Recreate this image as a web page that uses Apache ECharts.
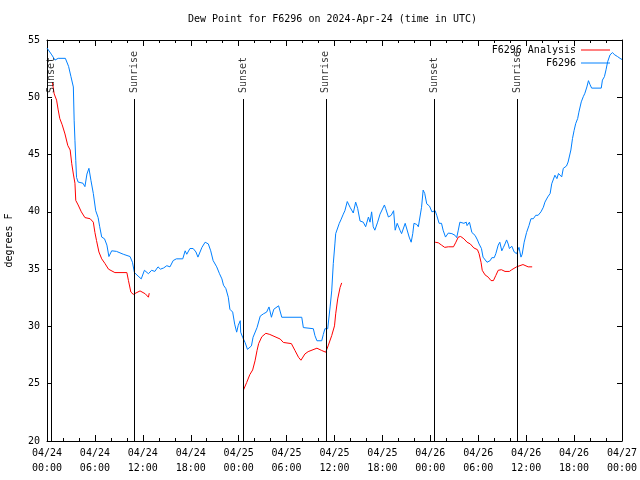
<!DOCTYPE html>
<html><head><meta charset="utf-8">
<script src="https://cdn.jsdelivr.net/npm/echarts@6/dist/echarts.min.js"></script>
<style>html,body{margin:0;padding:0;background:#fff}#c{width:640px;height:480px}</style>
</head><body><div id="c"></div>
<script>
// Hours since 2024-04-24 00:00 UTC
var xTickLabels = ["04/24\n00:00","04/24\n06:00","04/24\n12:00","04/24\n18:00","04/25\n00:00","04/25\n06:00","04/25\n12:00","04/25\n18:00","04/26\n00:00","04/26\n06:00","04/26\n12:00","04/26\n18:00","04/27\n00:00"];
var yTicks = [20,25,30,35,40,45,50,55];

var sunHours  = [0.5, 10.93, 24.55, 34.92, 48.52, 58.9];
var sunLabels = ["Sunset","Sunrise","Sunset","Sunrise","Sunset","Sunrise"];

var obsHours = [0,0.16,0.6,1.0,1.4,2.3,2.7,3.0,3.3,3.4,3.5,3.6,3.7,3.9,4.5,4.75,5.0,5.25,5.5,5.8,6.1,6.4,6.6,6.85,7.2,7.5,7.75,8.1,8.7,9.55,10.4,10.7,10.95,11.4,11.8,12.2,12.7,13.1,13.5,13.9,14.2,14.6,15.0,15.4,15.8,16.2,17.0,17.3,17.5,17.9,18.3,18.65,18.9,19.15,19.4,19.8,20.2,20.5,20.8,21.25,21.6,21.9,22.1,22.4,22.7,22.9,23.25,23.5,23.75,23.95,24.2,24.25,24.5,24.8,25.1,25.3,25.6,25.8,26.3,26.7,27.1,27.5,27.8,28.1,28.4,28.55,29.0,29.2,29.4,31.9,32.1,32.3,33.35,33.55,33.8,34.4,34.6,34.8,35.15,35.45,35.65,35.85,36.05,36.15,36.4,36.6,36.8,37.1,37.3,37.6,37.95,38.35,38.65,38.9,39.2,39.6,39.9,40.25,40.45,40.65,40.85,41.05,41.4,41.7,41.9,42.25,42.4,42.75,43.1,43.4,43.6,43.85,44.2,44.4,44.85,45.1,45.35,45.6,45.8,45.95,46.3,46.5,46.7,46.9,47.1,47.3,47.55,47.9,48.2,48.4,48.6,48.8,49.1,49.4,49.6,49.9,50.25,50.7,51.1,51.3,51.5,51.7,51.9,52.2,52.5,52.6,52.9,53.2,53.6,53.9,54.1,54.4,54.6,54.85,55.1,55.5,55.7,56.0,56.2,56.5,56.7,56.95,57.15,57.35,57.55,57.75,57.9,58.2,58.5,58.8,59.1,59.35,59.5,59.75,60.05,60.35,60.6,60.9,61.2,61.5,61.85,62.15,62.35,62.7,63.0,63.2,63.4,63.6,63.85,64.05,64.25,64.45,64.65,64.85,65.05,65.25,65.6,65.8,66.0,66.2,66.45,66.6,66.9,67.15,67.35,67.6,67.8,68.0,68.2,69.4,69.55,69.8,70.0,70.2,70.5,70.8,71.1,71.45,71.75,72.0];
var obsValues = [54.3,54.2,53.7,53.25,53.4,53.4,52.7,51.8,50.9,48.0,46.25,44.5,43.0,42.6,42.5,42.2,43.3,43.8,42.75,41.6,40.1,39.5,38.7,37.8,37.65,37.1,36.1,36.6,36.55,36.3,36.1,35.6,34.7,34.4,34.15,34.9,34.6,34.9,34.8,35.2,35.0,35.1,35.3,35.2,35.75,35.9,35.9,36.6,36.3,36.8,36.8,36.5,36.05,36.05,36.9,37.35,37.2,36.6,35.75,35.2,34.6,34.15,33.6,33.3,32.55,31.5,31.25,30.2,29.5,30.1,30.5,29.5,29.05,28.6,28.0,27.9,28.3,29.05,29.9,30.9,31.1,31.25,31.7,30.8,31.5,31.5,31.8,31.8,30.8,30.8,29.9,29.8,29.8,29.2,28.75,28.75,29.3,29.8,29.8,31.7,33.1,35.5,37.2,38.1,38.2,39.0,39.3,39.8,40.1,40.9,40.4,39.9,40.85,40.3,39.2,39.1,38.7,39.55,39.1,40.0,38.7,38.4,39.1,39.8,39.8,40.6,40.3,39.55,39.7,40.1,38.4,39.0,38.4,38.1,39.0,39.0,37.8,37.35,38.1,39.0,38.9,38.7,39.55,40.4,41.9,41.6,40.7,40.5,40.0,39.85,40.1,39.7,39.0,39.0,38.4,37.8,38.15,38.1,37.95,37.75,38.4,39.1,39.2,39.0,39.1,38.8,39.1,38.2,37.95,37.55,37.2,36.8,36.05,35.9,35.6,35.75,36.0,36.0,36.35,37.1,37.35,36.6,36.9,37.2,37.55,37.2,36.8,37.0,36.5,36.35,36.9,36.05,36.3,37.35,38.2,38.8,39.4,39.4,39.7,39.7,40.0,40.4,40.85,41.3,41.6,42.45,42.5,43.2,42.9,43.35,43.5,43.05,43.8,43.7,44.0,44.35,45.4,46.4,47.1,47.7,48.15,48.7,49.6,50.05,50.35,50.9,51.45,51.1,50.8,50.8,51.5,51.8,52.4,53.1,53.7,53.9,53.7,53.55,53.4,53.3];

var anaHours1 = [0.67,0.9,1.2,1.4,1.6,1.9,2.25,2.6,2.9,3.1,3.3,3.5,3.6,3.9,4.3,4.75,5.4,5.8,6.0,6.2,6.5,6.85,7.25,7.7,8.5,10.0,10.2,10.5,10.8,11.65,12.3,12.7,12.8];
var anaValues1 = [51.3,50.3,49.75,48.9,48.15,47.6,46.8,45.8,45.4,44.2,43.3,42.5,41.0,40.6,40.0,39.5,39.4,39.1,38.2,37.5,36.5,35.9,35.5,35.0,34.7,34.7,34.0,33.0,32.8,33.1,32.85,32.55,32.9];
var anaHours2 = [24.6,25.0,25.4,25.75,26.05,26.3,26.5,26.9,27.4,27.9,28.55,29.2,29.6,30.6,31.05,31.5,31.8,32.3,32.7,33.8,34.4,34.9,35.2,35.65,36.0,36.15,36.4,36.7,36.9];
var anaValues2 = [24.45,25.1,25.8,26.2,27.0,27.9,28.5,29.1,29.4,29.3,29.1,28.9,28.6,28.5,27.9,27.3,27.05,27.6,27.8,28.1,27.9,27.75,28.3,29.2,30.05,31.1,32.4,33.4,33.8];
var anaHours3 = [48.6,49.0,49.4,49.8,50.25,50.9,51.2,51.5,51.8,52.2,52.6,53.0,53.45,53.9,54.1,54.35,54.5,54.85,55.25,55.6,55.9,56.2,56.5,56.9,57.35,57.9,58.2,58.8,59.6,60.25,60.75];
var anaValues3 = [37.35,37.3,37.1,36.9,36.95,36.95,37.35,37.8,37.85,37.65,37.35,37.2,36.85,36.7,36.35,35.6,34.9,34.5,34.3,34.0,34.0,34.45,34.9,34.95,34.8,34.8,34.95,35.2,35.4,35.2,35.2];

function zip(a,b){return a.map(function(x,i){return [x,b[i]];});}
var anaData = zip(anaHours1,anaValues1).concat([[18,null]], zip(anaHours2,anaValues2), [[42,null]], zip(anaHours3,anaValues3));
var obsData = zip(obsHours,obsValues);
var sunLineTop = 49.85;

var FONT = "DejaVu Sans Mono";
var txt = {color:'#000', fontFamily:FONT, fontSize:10};
var chart = echarts.init(document.getElementById('c'));
function xAx(pos, showLabel){
  return {type:'value', position:pos, min:0, max:72, interval:6,
    axisLine:{show:true, onZero:false, lineStyle:{color:'#000', width:1}},
    axisTick:{show:true, inside:true, length:6, lineStyle:{color:'#000'}},
    minorTick:{show:true, splitNumber:3, length:3, lineStyle:{color:'#000'}},
    splitLine:{show:false},
    axisLabel:{show:showLabel, color:'#000', fontFamily:FONT, fontSize:10, lineHeight:15, margin:5,
      formatter:function(v){return xTickLabels[Math.round(v/6)];}}};
}
function yAx(pos, showLabel){
  return {type:'value', position:pos, min:20, max:55, interval:5,
    name: showLabel ? 'degrees F' : '', nameLocation:'middle', nameGap:33, nameRotate:90,
    nameTextStyle:txt,
    axisLine:{show:true, onZero:false, lineStyle:{color:'#000', width:1}},
    axisTick:{show:true, inside:true, length:5, lineStyle:{color:'#000'}},
    splitLine:{show:false},
    axisLabel:{show:showLabel, color:'#000', fontFamily:FONT, fontSize:10, margin:7,
      formatter:function(v){return yTicks.indexOf(v)>=0 ? String(v) : '';}}};
}
chart.setOption({
  animation:false,
  backgroundColor:'#fff',
  title:{text:'Dew Point for F6296 on 2024-Apr-24 (time in UTC)', left:188, top:14, padding:0,
    textStyle:{color:'#000', fontFamily:FONT, fontSize:10, fontWeight:'normal'}},
  grid:{left:47, right:18, top:40, bottom:39, containLabel:false, outerBoundsMode:'none'},
  legend:{orient:'vertical', right:25, top:40, align:'right', itemWidth:29, itemHeight:1, itemGap:3,
    textStyle:txt,
    data:[{name:'F6296 Analysis', icon:'rect'},{name:'F6296', icon:'rect'}]},
  xAxis:[xAx('bottom', true), xAx('top', false)],
  yAxis:[yAx('left', true), yAx('right', false)],
  series:[
    {name:'F6296 Analysis', type:'line', data:anaData, symbol:'none', connectNulls:false,
      lineStyle:{color:'#ff0000', width:1}, itemStyle:{color:'#ff0000'}, z:3},
    {name:'F6296', type:'line', data:obsData, symbol:'none',
      lineStyle:{color:'#0080ff', width:1}, itemStyle:{color:'#0080ff'}, z:2,
      markLine:{silent:true, symbol:'none', animation:false, label:{show:false},
        lineStyle:{color:'#000', width:1, type:'solid'},
        data:sunHours.map(function(h){return [{coord:[h,20]},{coord:[h,sunLineTop]}];})}},
    {name:'sun', type:'scatter', symbolSize:0, silent:true, z:4,
      data:sunHours.map(function(h,i){return [h, sunLineTop, sunLabels[i]];}),
      label:{show:true, position:'top', distance:6, rotate:90, align:'left', verticalAlign:'middle',
        color:'#000', fontFamily:FONT, fontSize:10,
        formatter:function(p){return p.data[2];}}}
  ]
});
</script></body></html>
